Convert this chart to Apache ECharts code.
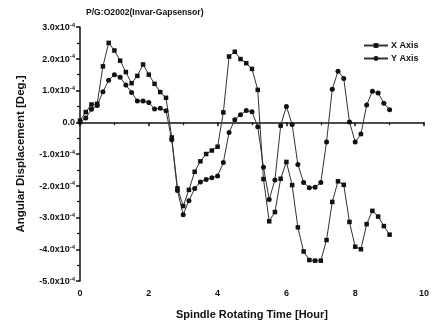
<!DOCTYPE html>
<html><head><meta charset="utf-8">
<script src="https://cdn.jsdelivr.net/npm/echarts@6/dist/echarts.min.js"></script>
<style>html,body{margin:0;padding:0;background:#fff}#c{width:447px;height:329px}</style>
</head><body><div id="c"></div>
<script>
// time in hours (every 10 minutes, 0..9 h)
const timeHours = Array.from({length: 55}, (_, i) => +(i / 6).toFixed(4));
// angular displacement in units of 1e-4 deg
const xAxisDisp = [0.05,0.32,0.56,0.58,1.76,2.50,2.26,1.94,1.58,1.23,1.46,1.82,1.50,1.21,0.95,0.77,-0.48,
  -2.08,-2.64,-2.13,-1.56,-1.23,-1.00,-0.89,-0.77,0.31,2.07,2.22,1.99,1.86,1.68,1.02,
  -1.79,-3.12,-2.83,-1.78,-1.25,-1.98,-3.31,-4.07,-4.34,-4.36,-4.36,-3.71,-2.51,-1.86,-1.97,-3.14,-3.92,-4.00,-3.21,-2.79,-2.97,-3.27,-3.54];
const yAxisDisp = [0.00,0.13,0.41,0.53,0.96,1.32,1.50,1.42,1.17,0.94,0.67,0.67,0.62,0.42,0.44,0.36,-0.55,
  -2.15,-2.91,-2.47,-2.09,-1.88,-1.80,-1.75,-1.69,-1.27,-0.32,0.08,0.24,0.37,0.33,-0.14,
  -1.42,-2.43,-1.82,-0.11,0.50,-0.07,-1.33,-1.90,-2.06,-2.05,-1.90,-0.62,1.04,1.61,1.38,0.01,-0.62,-0.37,0.54,0.98,0.92,0.60,0.39];
const seriesNames = ['X Axis', 'Y Axis'];
const titleText = 'P/G:O2002(Invar-Gapsensor)';
const xTitle = 'Spindle Rotating Time [Hour]';
const yTitle = 'Angular Displacement [Deg.]';

const FONT = 'Liberation Sans, Arial, sans-serif';
const chart = echarts.init(document.getElementById('c'), null, {renderer: 'canvas'});
const pairs = arr => arr.map((v, i) => [timeHours[i], v]);
chart.setOption({
  animation: false,
  backgroundColor: '#fff',
  title: {text: titleText, left: 81, top: 3,
    textStyle: {fontFamily: FONT, fontSize: 8.6, fontWeight: 'bold', color: '#111'}},
  legend: {
    orient: 'vertical', left: 358, top: 36, itemWidth: 24, itemHeight: 6, itemGap: 4,
    textStyle: {fontFamily: FONT, fontSize: 9, fontWeight: 'bold', color: '#111', padding: [0, 0, 0, -2]},
    data: seriesNames
  },
  grid: {left: 80, right: 23, top: 27, bottom: 48},
  xAxis: {
    type: 'value', min: 0, max: 10, interval: 2,
    name: xTitle, nameLocation: 'middle', nameGap: 28,
    nameTextStyle: {fontFamily: FONT, fontSize: 11, fontWeight: 'bold', color: '#111'},
    axisLine: {lineStyle: {color: '#111', width: 1.5}},
    axisTick: {length: 4, lineStyle: {color: '#111', width: 1.5}},
    minorTick: {show: true, splitNumber: 2, length: 3, lineStyle: {color: '#111', width: 1.2}},
    splitLine: {show: false},
    axisLabel: {fontFamily: FONT, fontSize: 9, fontWeight: 'bold', color: '#111', margin: 8}
  },
  yAxis: {
    type: 'value', min: -5, max: 3, interval: 1,
    name: yTitle, nameLocation: 'middle', nameGap: 53, nameRotate: 90,
    nameTextStyle: {fontFamily: FONT, fontSize: 11.5, fontWeight: 'bold', color: '#111'},
    axisLine: {show: true, lineStyle: {color: '#111', width: 1.5}},
    axisTick: {show: true, length: 4, lineStyle: {color: '#111', width: 1.5}},
    minorTick: {show: true, splitNumber: 2, length: 3, lineStyle: {color: '#111', width: 1.2}},
    splitLine: {show: false},
    axisLabel: {
      margin: 5,
      formatter: v => v === 0 ? '{a|0.0}' : '{a|' + v.toFixed(1) + 'x10}{s|-4}',
      rich: {
        a: {fontFamily: FONT, fontSize: 9, fontWeight: 'bold', color: '#111', lineHeight: 10, verticalAlign: 'bottom'},
        s: {fontFamily: FONT, fontSize: 6, fontWeight: 'bold', color: '#111', lineHeight: 10, verticalAlign: 'top'}
      }
    }
  },
  series: [
    {name: seriesNames[0], type: 'line', data: pairs(xAxisDisp), symbol: 'rect', symbolSize: 4.5,
     itemStyle: {color: '#111'}, lineStyle: {color: '#333', width: 1}},
    {name: seriesNames[1], type: 'line', data: pairs(yAxisDisp), symbol: 'circle', symbolSize: 5,
     itemStyle: {color: '#111'}, lineStyle: {color: '#333', width: 1}}
  ]
});
</script></body></html>
